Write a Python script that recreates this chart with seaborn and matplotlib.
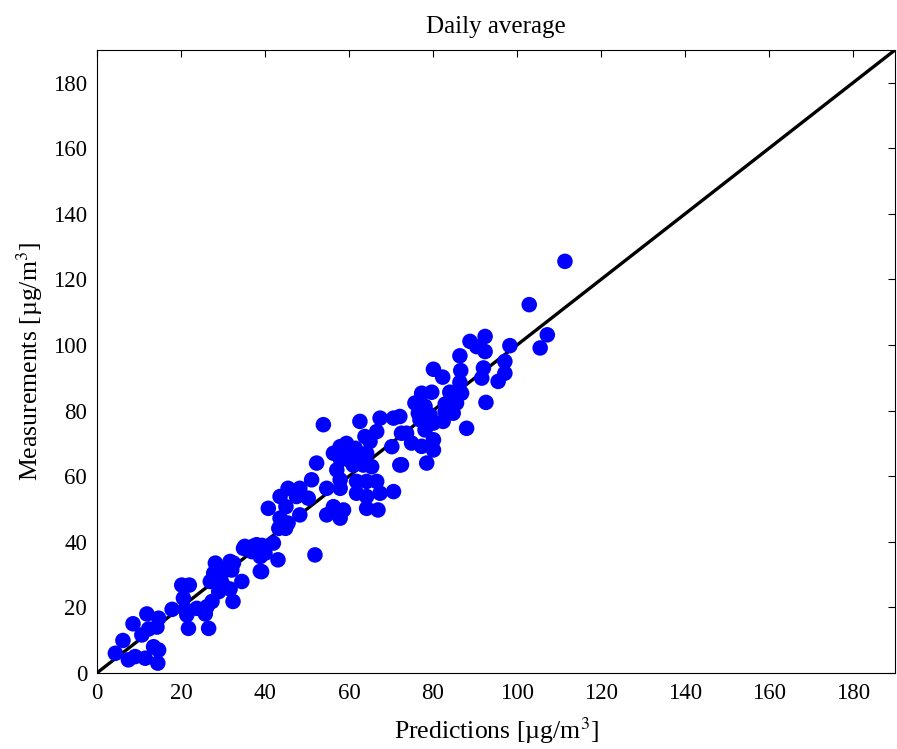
import numpy as np
import pandas as pd
import matplotlib
matplotlib.use("Agg")
import matplotlib.pyplot as plt
import seaborn as sns

pred = [4.4, 6.2, 7.5, 9.1, 11.5, 14.5, 8.6, 11.9, 14.7, 10.7, 12.3, 14.3, 13.5, 14.7,
        17.9, 20.2, 22.0, 20.6, 21.0, 21.4, 21.8, 23.8, 25.8, 26.6, 26.2, 27.0, 27.8,
        28.2, 27.4, 29.0, 29.8, 30.2, 31.7, 31.7, 32.1, 32.4, 34.5, 34.9, 37.3, 36.9,
        38.9, 38.9, 39.3,
        53.9, 62.6, 67.4, 70.6, 72.5, 66.6, 63.8, 65.0, 70.2, 59.4, 57.9, 56.3, 60.2,
        62.6, 64.2, 65.4, 61.0, 63.4, 72.1, 52.3, 57.1, 51.1, 57.9, 61.8, 64.2, 66.6,
        54.7, 57.9, 61.8, 64.2, 67.4, 70.6, 45.5, 48.3, 43.6, 47.5, 50.3, 45.0, 40.8,
        56.3, 58.7, 54.7, 57.9, 64.2, 66.9, 48.3, 43.6, 45.5, 43.3, 44.9, 51.9, 42.0,
        38.0, 35.2, 40.0, 43.1, 39.2, 32.5,
        111.4, 102.9, 107.2, 105.5, 98.3, 92.4, 88.8, 90.4, 92.4, 86.4, 97.1, 97.1,
        92.0, 91.6, 95.5, 92.6, 80.1, 82.3, 86.6, 86.4, 86.4, 84.0, 86.8, 77.3, 79.7,
        85.6, 82.9, 75.7, 78.1, 76.5, 79.3, 84.8, 82.9, 82.4, 80.1, 76.9, 88.0, 78.1,
        73.7, 74.9, 77.3, 80.1, 80.1, 72.5, 78.5, 72.1, 59.0, 61.5, 58.0, 60.5]
meas = [6.0, 9.9, 4.0, 5.0, 4.5, 3.0, 15.0, 18.0, 16.7, 11.6, 13.4, 14.0, 8.0, 7.0,
        19.4, 26.8, 26.8, 22.8, 19.4, 17.7, 13.6, 19.7, 18.0, 13.6, 20.2, 27.9, 30.4,
        33.5, 21.8, 24.8, 27.4, 31.0, 34.0, 25.6, 31.4, 21.8, 27.9, 38.0, 38.7, 37.0,
        31.0, 35.5, 38.9,
        75.7, 76.7, 77.7, 77.7, 73.1, 73.6, 72.1, 70.6, 69.0, 70.0, 69.0, 67.0, 66.5,
        66.0, 67.0, 62.9, 63.4, 63.4, 63.4, 64.0, 61.9, 58.9, 58.9, 58.4, 58.4, 58.4,
        56.3, 56.3, 54.8, 53.8, 54.8, 55.3, 56.3, 56.3, 53.8, 53.8, 53.3, 50.7, 50.2,
        50.7, 49.7, 48.2, 47.2, 50.2, 49.7, 48.2, 47.2, 45.7, 44.1, 44.1, 36.0, 39.6,
        39.1, 38.6, 36.5, 34.5, 30.9, 33.5,
        125.5, 112.3, 103.1, 99.1, 99.8, 102.6, 101.1, 99.5, 98.0, 96.7, 95.0, 91.4,
        93.0, 89.9, 88.9, 82.5, 92.6, 90.2, 92.2, 88.6, 85.8, 85.6, 85.3, 85.3, 85.6,
        82.3, 82.0, 82.3, 81.3, 79.2, 78.7, 79.2, 79.7, 76.7, 76.2, 77.2, 74.6, 74.1,
        73.1, 70.1, 69.1, 71.1, 68.0, 63.5, 64.0, 78.2, 68.0, 68.5, 65.0, 64.5]
diag = [0, 190]

df = pd.DataFrame({'pred': pred, 'meas': meas})

sns.set_style("white")
plt.rcParams['font.family'] = ['Liberation Serif', 'DejaVu Serif']
plt.rcParams['mathtext.fontset'] = 'stix'
plt.rcParams['text.color'] = 'black'
plt.rcParams['axes.labelcolor'] = 'black'
plt.rcParams['xtick.color'] = 'black'
plt.rcParams['ytick.color'] = 'black'

fig = plt.figure(figsize=(8.97, 7.49), dpi=100)
ax = fig.add_axes([0.108, 0.1015, 0.89, 0.832])

sns.scatterplot(data=df, x='pred', y='meas', color='#0000ff', s=125,
                edgecolor='none', ax=ax, zorder=3)
sns.lineplot(x=diag, y=diag, color='black', linewidth=2.4, ax=ax, zorder=2)

ax.set_xlim(0, 190)
ax.set_ylim(0, 190)
ticks = np.arange(0, 181, 20)
ax.set_xticks(ticks)
ax.set_yticks(ticks)
ax.tick_params(direction='in', top=True, right=True, labelsize=16.5,
               length=5, width=0.8, pad=7)
for sp in ax.spines.values():
    sp.set_color('black')
    sp.set_linewidth(0.8)

ax.set_xlabel('Predictions [\u00b5g/m$^3$]', fontsize=18.5, labelpad=8)
ax.set_ylabel('Measurements [\u00b5g/m$^3$]', fontsize=18.5, labelpad=6)
ax.set_title('Daily average', fontsize=18, pad=12)

plt.savefig('out.png', dpi=100)
plt.close()
